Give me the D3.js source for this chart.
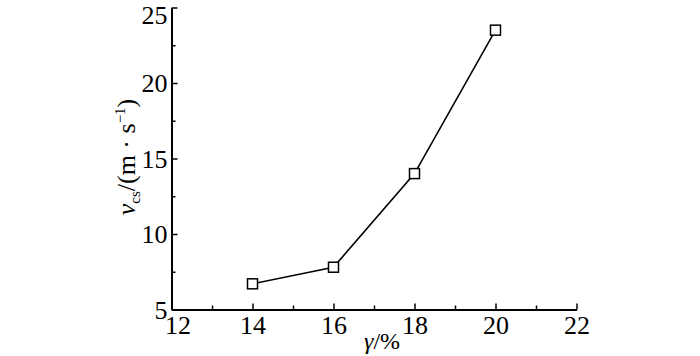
<!DOCTYPE html>
<html><head><meta charset="utf-8">
<script src="https://cdn.jsdelivr.net/npm/d3@7"></script>
<style>body{margin:0;background:#fff}svg{display:block}svg text{font-family:"Liberation Serif","Times New Roman","DejaVu Serif",serif !important;fill:#000}</style>
</head><body><svg id="c" width="700" height="356"></svg>
<script>
const xValues = [14, 16, 18, 20];
const yValues = [6.7, 7.8, 14.0, 23.5];
const xTicks = [12, 14, 16, 18, 20, 22];
const yTicks = [5, 10, 15, 20, 25];
const xMinor = [13, 15, 17, 19, 21];
const yMinor = [7.5, 12.5, 17.5, 22.5];

const svg = d3.select("#c");
const x = d3.scaleLinear().domain([12, 22]).range([171.5, 576.5]);
const y = d3.scaleLinear().domain([5, 25]).range([309.5, 7.5]);

const gx = svg.append("g").attr("transform", `translate(0,${y(5)})`);
gx.call(d3.axisBottom(x).tickValues(xTicks).tickSizeInner(-6).tickSizeOuter(0).tickPadding(6).tickFormat(d3.format("d")));
gx.append("g").call(d3.axisBottom(x).tickValues(xMinor).tickSizeInner(-4).tickSizeOuter(0).tickFormat(""));
const gy = svg.append("g").attr("transform", `translate(${x(12)},0)`);
gy.call(d3.axisLeft(y).tickValues(yTicks).tickSizeInner(-6).tickSizeOuter(0).tickPadding(4).tickFormat(d3.format("d")));
gy.append("g").call(d3.axisLeft(y).tickValues(yMinor).tickSizeInner(-4).tickSizeOuter(0).tickFormat(""));
svg.selectAll("g").attr("font-family", null);
svg.selectAll(".domain").attr("stroke", "#000").attr("stroke-width", 2);
svg.selectAll(".tick line").attr("stroke", "#000").attr("stroke-width", 1.5);
svg.selectAll(".tick text").attr("font-size", 26);
gy.selectAll(".tick text").attr("dy", "0.34em");
gy.selectAll(".tick text").filter(d => d === 25).attr("dy", "0.6em");
gx.selectAll(".tick text").filter(d => d === 12).attr("dx", 6);

const pts = xValues.map((v, i) => [v, yValues[i]]);
svg.append("path").datum(pts)
  .attr("fill", "none").attr("stroke", "#000").attr("stroke-width", 1.6)
  .attr("d", d3.line().x(d => x(d[0])).y(d => y(d[1])));
const s = 10;
svg.selectAll("rect.m").data(pts).enter().append("rect").attr("class", "m")
  .attr("x", d => x(d[0]) - s / 2).attr("y", d => y(d[1]) - s / 2)
  .attr("width", s).attr("height", s)
  .attr("fill", "#fff").attr("stroke", "#000").attr("stroke-width", 1.5);

// x label
const xl = svg.append("text").attr("x", 382).attr("y", 349).attr("text-anchor", "middle").attr("font-size", 24);
xl.append("tspan").attr("font-style", "italic").text("γ");
xl.append("tspan").text("/%");

// y label
const yl = svg.append("text").attr("transform", "translate(135,157) rotate(-90)").attr("text-anchor", "middle").attr("font-size", 26);
yl.append("tspan").attr("font-style", "italic").text("v");
yl.append("tspan").attr("font-size", 15).attr("dy", 5).text("cs");
yl.append("tspan").attr("dy", -5).text("/(m · s");
yl.append("tspan").attr("font-size", 15).attr("dy", -10).text("−1");
yl.append("tspan").attr("dy", 10).text(")");
</script></body></html>
